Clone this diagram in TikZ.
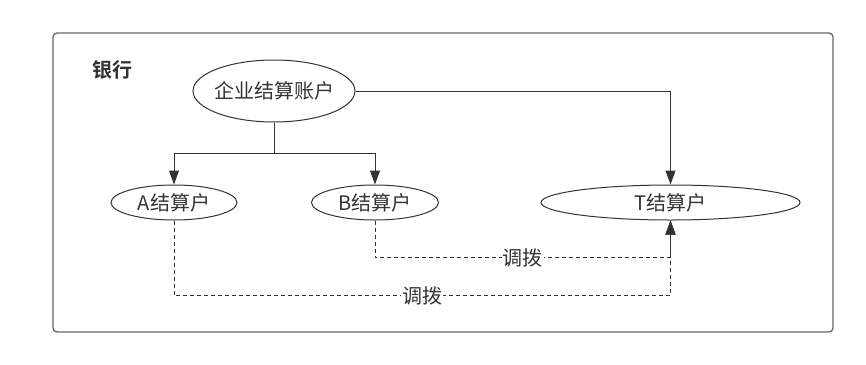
\documentclass[tikz,border=0pt]{standalone}
\usepackage{fontspec}
\setmainfont{Noto Sans CJK SC}[BoldFont={Noto Sans CJK SC Bold}]
\usetikzlibrary{shapes.geometric, arrows.meta, positioning}
\definecolor{mydark}{RGB}{51,51,51}
\definecolor{mygray}{RGB}{100,102,105}
\tikzset{
  acct/.style={ellipse, draw=mydark, line width=1pt, inner xsep=-10pt, inner ysep=0pt,
    font=\fontsize{20}{22}\selectfont, text=mydark},
  arrow/.style={-{Triangle[length=14pt,width=10pt]}, line width=1pt, color=mydark},
  dasharrow/.style={arrow, dash pattern=on 4pt off 3pt},
  line/.style={line width=1pt, color=mydark},
  lbl/.style={fill=white, inner sep=1pt, font=\fontsize{20}{22}\selectfont, text=mydark}
}

\begin{document}
\begin{tikzpicture}[x=1pt, y=-1pt]
  \useasboundingbox (0,0) rectangle (866,364);

  % Bank frame
  \node[draw=mygray, line width=1.3pt, rounded corners=4pt, minimum width=780pt,
    minimum height=299pt, inner sep=0pt] (bank) at (443,182.5) {};
  \node[anchor=west, inner sep=0pt, text=mydark, font=\fontsize{20}{22}\selectfont\bfseries] (banklbl) at (92,70) {银行};

  % Accounts
  \node[acct, minimum width=162pt, minimum height=62pt] (corp) at (274,91) {企业结算账户};
  \node[acct, minimum width=126pt, minimum height=35pt] (acA) at (174,202.5) {A结算户};
  \node[acct, minimum width=127pt, minimum height=35pt] (acB) at (375,202.5) {B结算户};
  \node[acct, minimum width=259pt, minimum height=35pt] (acT) at (670.5,202.5) {T结算户};

  % Solid links
  \coordinate (split) at (274,153);
  \draw[line] (corp.south) -- (split);
  \draw[arrow] (split) -| (acA.north);
  \draw[arrow] (split) -| (acB.north);
  \draw[arrow] (corp.east) -| (acT.north);

  % Transfers
  \draw[dasharrow] (acB.south) -- ++(0,37) -| (acT.south) node[lbl, pos=0.25] (moveB) {调拨};
  \draw[dasharrow] (acA.south) -- ++(0,75) -| (acT.south) node[lbl, pos=0.25] (moveA) {调拨};
\end{tikzpicture}
\end{document}
